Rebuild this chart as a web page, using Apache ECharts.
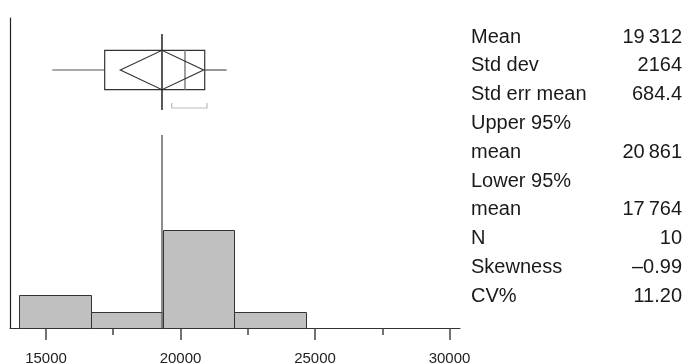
<!DOCTYPE html>
<html><head><meta charset="utf-8">
<script src="https://cdn.jsdelivr.net/npm/echarts@6/dist/echarts.min.js"></script>
<style>html,body{margin:0;padding:0;background:#fff}#c{width:686px;height:363px}</style>
</head><body><div id="c"></div>
<script>
// ---- data ----
const binStarts = [14000, 16667, 19333, 22000];
const binEnds   = [16667, 19333, 22000, 24667];
const counts    = [2, 1, 6, 1];
const boxStats  = [15234, 17182, 20167, 20900, 21717]; // min, q1, median, q3, max
const meanValue = 19312;
const ci95      = [17764, 20861];
const shortestHalf = [19673, 20985];
const majorTicks = [15000, 20000, 25000, 30000];
const minorTicks = [17500, 22500, 27500];
const statLabels = [["Mean"], ["Std dev"], ["Std err mean"], ["Upper 95%", "mean"], ["Lower 95%", "mean"], ["N"], ["Skewness"], ["CV%"]];
const statValues = ["19\u2009312", "2164", "684.4", "20\u2009861", "17\u2009764", "10", "\u20130.99", "11.20"];

// ---- chart ----
const X_MIN = 13662, X_MAX = 30390;
const chart = echarts.init(document.getElementById('c'), null, {renderer: 'canvas'});
const FONT = '"Liberation Sans", Arial, Helvetica, sans-serif';

const histData = binStarts.map((s, i) => [s, binEnds[i], counts[i]]);

function px(v) { return Math.round(v) + 0.5; }

// stat table graphics
const graphics = [];
const lineStep = 28.8, firstLine = 37, labelX = 471, valueX = 682;
let line = 0;
statLabels.forEach((lines, i) => {
  lines.forEach((t, j) => {
    const y = firstLine + (line + j) * lineStep;
    graphics.push({type: 'text', style: {text: t, x: labelX, y: y, font: '20px ' + FONT, fill: '#1a1a1a', verticalAlign: 'middle', align: 'left'}});
  });
  const yv = firstLine + (line + lines.length - 1) * lineStep;
  graphics.push({type: 'text', style: {text: statValues[i], x: valueX, y: yv, font: '20px ' + FONT, fill: '#1a1a1a', verticalAlign: 'middle', align: 'right'}});
  line += lines.length;
});

const option = {
  animation: false,
  backgroundColor: '#fff',
  grid: [
    {left: 10, top: 18, width: 450, height: 117, containLabel: false, outerBoundsMode: 'none'},
    {left: 10, top: 135, width: 450, height: 193, containLabel: false, outerBoundsMode: 'none'}
  ],
  xAxis: [
    {gridIndex: 0, type: 'value', min: X_MIN, max: X_MAX, show: false},
    {gridIndex: 1, type: 'value', position: 'bottom', min: X_MIN, max: X_MAX,
      axisLine: {show: true, lineStyle: {color: '#333', width: 1}},
      axisTick: {show: true, customValues: majorTicks, length: 12, lineStyle: {color: '#444', width: 1.5}},
      axisLabel: {show: true, customValues: majorTicks, margin: 23, fontSize: 15, fontFamily: FONT, color: '#222',
        formatter: function (v) { return String(v); }},
      splitLine: {show: false}},
    {gridIndex: 1, type: 'value', position: 'bottom', offset: 0, min: X_MIN, max: X_MAX,
      axisLine: {show: false},
      axisTick: {show: true, customValues: minorTicks, length: 7, lineStyle: {color: '#444', width: 1.5}},
      axisLabel: {show: false},
      splitLine: {show: false}}
  ],
  yAxis: [
    {gridIndex: 0, type: 'value', min: 0, max: 117, inverse: true,
      axisLine: {show: true, lineStyle: {color: '#222', width: 1.2}},
      axisTick: {show: false}, axisLabel: {show: false}, splitLine: {show: false}},
    {gridIndex: 1, type: 'value', min: 0, max: 11.8,
      axisLine: {show: true, lineStyle: {color: '#222', width: 1.2}},
      axisTick: {show: false}, axisLabel: {show: false}, splitLine: {show: false}}
  ],
  graphic: graphics,
  series: [
    {
      type: 'custom', xAxisIndex: 1, yAxisIndex: 1,
      data: histData,
      renderItem: function (params, api) {
        const p0 = api.coord([api.value(0), 0]);
        const p1 = api.coord([api.value(1), api.value(2)]);
        const x0 = px(p0[0]), x1 = px(p1[0]), y0 = px(p0[1]), y1 = px(p1[1]);
        return {type: 'rect', shape: {x: x0, y: y1, width: x1 - x0, height: y0 - y1},
          style: {fill: '#c0c0c0', stroke: '#333', lineWidth: 1}};
      },
      markLine: {
        silent: true, symbol: 'none', label: {show: false},
        lineStyle: {color: '#666', width: 1.5, type: 'solid'},
        data: [{xAxis: meanValue}]
      }
    },
    {
      type: 'custom', xAxisIndex: 0, yAxisIndex: 0,
      data: [[boxStats[0], boxStats[1], boxStats[2], boxStats[3], boxStats[4], meanValue, ci95[0], ci95[1], shortestHalf[0], shortestHalf[1]]],
      renderItem: function (params, api) {
        const X = v => api.coord([v, 0])[0];
        const Y = v => api.coord([X_MIN, v])[1];
        const mn = X(api.value(0)), q1 = X(api.value(1)), md = X(api.value(2)), q3 = X(api.value(3)), mx = X(api.value(4));
        const mu = X(api.value(5)), lo = X(api.value(6)), hi = X(api.value(7));
        const s0 = X(api.value(8)), s1 = X(api.value(9));
        const top = Y(32.3), bot = Y(71.7), cy = Y(52);
        const dark = '#333';
        return {type: 'group', children: [
          {type: 'line', shape: {x1: mn, y1: cy, x2: q1, y2: cy}, style: {stroke: '#555', lineWidth: 1.2}},
          {type: 'line', shape: {x1: q3, y1: cy, x2: mx, y2: cy}, style: {stroke: '#555', lineWidth: 1.2}},
          {type: 'rect', shape: {x: q1, y: top, width: q3 - q1, height: bot - top}, style: {fill: 'none', stroke: dark, lineWidth: 1.2}},
          {type: 'line', shape: {x1: md, y1: top, x2: md, y2: bot}, style: {stroke: '#777', lineWidth: 1.4}},
          {type: 'polygon', shape: {points: [[lo, cy], [mu, top], [hi, cy], [mu, bot]]}, style: {fill: 'none', stroke: dark, lineWidth: 1.2}},
          {type: 'line', shape: {x1: mu, y1: Y(16), x2: mu, y2: Y(92)}, style: {stroke: '#222', lineWidth: 1.5}},
          {type: 'polyline', shape: {points: [[s0, Y(85)], [s0, Y(90)], [s1, Y(90)], [s1, Y(85)]]}, style: {fill: 'none', stroke: '#bbb', lineWidth: 1.2}}
        ]};
      }
    }
  ]
};
chart.setOption(option);
</script>
</body></html>
